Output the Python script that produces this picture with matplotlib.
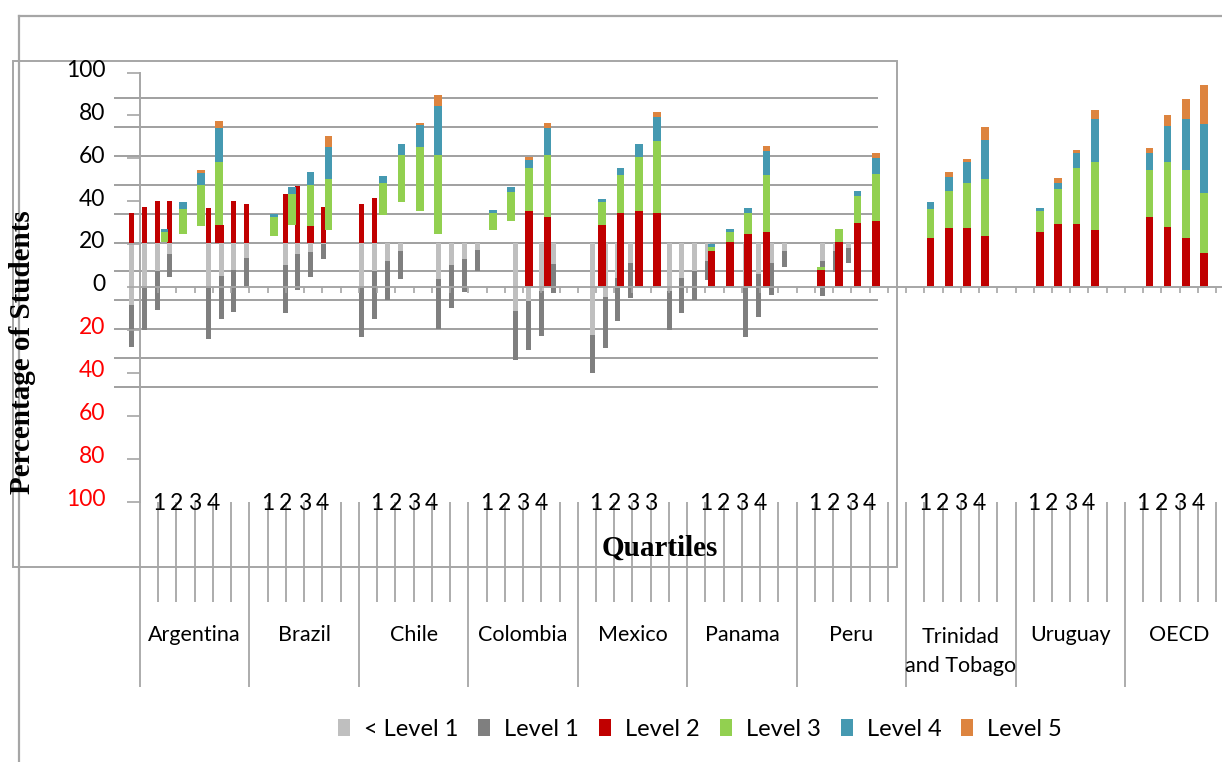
import numpy as np
import matplotlib
matplotlib.use("Agg")
import matplotlib.pyplot as plt
import matplotlib.transforms as mtransforms
from matplotlib.patches import Patch, Rectangle
from matplotlib.lines import Line2D

plt.rcParams["font.family"] = ["Lato", "DejaVu Sans"]

# ── data ──────────────────────────────────────────────────────────
countries = ["Argentina", "Brazil", "Chile", "Colombia", "Mexico",
             "Panama", "Peru", "Trinidad\nand Tobago", "Uruguay", "OECD"]
quartile_labels = [["1", "2", "3", "4"], ["1", "2", "3", "4"],
                   ["1", "2", "3", "4"], ["1", "2", "3", "4"],
                   ["1", "2", "3", "3"], ["1", "2", "3", "4"],
                   ["1", "2", "3", "4"], ["1", "2", "3", "4"],
                   ["1", "2", "3", "4"], ["1", "2", "3", "4"]]
level_names = ["< Level 1", "Level 1", "Level 2", "Level 3", "Level 4", "Level 5"]

# upper panel: Level 2-5 stacked, quartiles 1-4 per country
# (stack_start is where the stack begins on the axis)
stack_start = [21.0, 24.7, 28.4, 20.5,  23.8, 28.9, 20.5, 26.6,
               33.6, 39.6, 35.4, 24.7,  26.6, 30.8, 0, 0,
               0, 0, 0, 0,  0, 0, 0, 0,  0, 0, 0, 0,
               0, 0, 0, 0,  0, 0, 0, 0,  0, 0, 0, 0]
level2 = [0, 0, 0, 8.4,  0, 0, 7.9, 0,  0, 0, 0, 0,  0, 0, 35.4, 32.6,
          28.9, 34.5, 35.4, 34.5,  16.8, 21.0, 24.7, 25.6,
          7.9, 21.0, 29.8, 30.8,  22.8, 27.5, 27.5, 23.8,
          25.6, 29.4, 29.4, 26.6,  32.6, 28.0, 22.8, 15.9]
level3 = [4.7, 11.7, 19.1, 29.4,  8.9, 14.5, 19.1, 23.8,
          14.9, 21.9, 29.8, 36.8,  7.9, 13.5, 20.0, 28.9,
          10.7, 17.7, 25.2, 33.6,  1.9, 4.7, 9.8, 26.6,
          1.4, 6.1, 12.6, 21.9,  13.5, 17.2, 21.0, 26.6,
          9.8, 16.3, 26.1, 31.7,  21.9, 30.3, 31.7, 28.0]
level4 = [1.4, 3.3, 5.6, 15.9,  1.4, 3.3, 6.1, 14.9,
          3.3, 5.1, 10.3, 22.8,  1.4, 2.3, 3.7, 12.6,
          1.4, 3.3, 6.1, 11.2,  1.4, 1.4, 2.3, 11.2,
          0, 0, 2.3, 7.5,  3.3, 6.5, 9.8, 18.2,
          1.4, 2.8, 7.0, 20.0,  7.9, 16.8, 23.8, 32.2]
level5 = [0, 0, 1.4, 3.3,  0, 0, 0, 5.1,  0, 0, 0.9, 5.1,  0, 0, 1.4, 2.3,
          0, 0, 0, 2.3,  0, 0, 0, 2.3,  0, 0, 0, 2.3,  0, 2.3, 1.4, 6.1,
          0, 2.3, 1.4, 4.2,  2.3, 5.1, 9.3, 18.2]

# lower panel: Level 2 up, below-Level-2 shares hanging down from the origin
inner_origin = 20.5
inner_level2 = [14.0, 16.8, 19.6, 19.6,  16.3, 8.4, 19.6, 18.2,
                22.8, 26.8, 7.9, 16.8,  18.2, 21.0, 0, 0] + [0] * 24
below_level1 = [28.9, 21.0, 13.1, 5.1,  20.0, 15.4, 12.6, 7.0,
                10.3, 5.1, 4.2, 0.5,  20.5, 13.1, 8.4, 3.7,
                16.8, 10.3, 7.5, 3.3,  31.7, 27.0, 22.4, 9.8,
                42.9, 25.2, 16.3, 9.3,  22.4, 16.3, 13.1, 8.4,
                21.0, 14.5, 9.3, 3.7,  8.4, 3.7, 2.3, 0]
inner_level1 = [19.6, 19.6, 18.2, 10.7,  24.7, 20.0, 19.6, 13.1,
                22.4, 16.8, 11.7, 7.0,  23.3, 22.4, 18.2, 13.1,
                23.3, 20.0, 15.4, 9.8,  22.8, 22.8, 21.0, 13.5,
                17.7, 23.8, 20.0, 16.3,  18.2, 16.3, 13.5, 8.9,
                22.8, 20.0, 14.9, 7.5,  16.3, 9.8, 7.0, 0]

colours = ["#bfbfbf", "#7f7f7f", "#c00000", "#92d050", "#4599b1", "#dd843f"]
LINE = "#a6a6a6"

# ── layout helpers (pixel boxes) ──────────────────────────────────
W, H = 1222, 762
fig = plt.figure(figsize=(W / 100, H / 100), dpi=100)


def box(x0, y0, x1, y1):
    return [x0 / W, 1 - y1 / H, (x1 - x0) / W, (y1 - y0) / H]


def fig_line(x, y, **kw):
    fig.add_artist(Line2D([v / W for v in x], [1 - v / H for v in y],
                          transform=fig.transFigure, **kw))


n_slots = 60
slot_px = 18.24

# outer frame and inner box
fig_line([19, 1222], [16, 16], color=LINE, lw=1.6)
fig_line([19, 19], [16, 762], color=LINE, lw=1.6)
fig.add_artist(Rectangle((13 / W, 1 - 567 / H), (897 - 13) / W, (567 - 61) / H,
                         transform=fig.transFigure, fill=False,
                         edgecolor=LINE, lw=1.4))

# background gridlines
ax_grid = fig.add_axes(box(114, 96, 878, 389), zorder=0)
ax_grid.set_ylim(-50.7, 50.7)
ax_grid.set_yticks(range(-50, 51, 10))
ax_grid.set_xticks([])
ax_grid.tick_params(axis="y", length=0, labelleft=False)
ax_grid.grid(axis="y", color="#999999", lw=1.3)
ax_grid.patch.set_visible(False)
for s in ax_grid.spines.values():
    s.set_visible(False)

q = np.arange(4)
grp = np.arange(len(countries))[:, None] * 6

# lower panel bars (narrow)
ax_in = fig.add_axes(box(125.1, 72.5, 893.1, 501.5), zorder=1)
in_x = (grp + q[None, :]).ravel() + 0.5
below = np.array(below_level1)
ax_in.bar(in_x, inner_level2, width=0.4, bottom=inner_origin,
          color=colours[2], linewidth=0)
ax_in.bar(in_x, -below, width=0.4, bottom=inner_origin,
          color=colours[0], linewidth=0)
ax_in.bar(in_x, -np.array(inner_level1), width=0.4, bottom=inner_origin - below,
          color=colours[1], linewidth=0)
ax_in.set_xlim(0, n_slots)
ax_in.set_ylim(-100, 100)
ax_in.axis("off")

# upper panel bars and the value axis
ax_out = fig.add_axes(box(140, 72.5, 140 + slot_px * n_slots, 501.5), zorder=2)
out_x = (grp + 1 + q[None, :]).ravel() + 0.5 - 0.16
bottom = np.array(stack_start, dtype=float)
for vals, col in zip([level2, level3, level4, level5], colours[2:]):
    v = np.array(vals, dtype=float)
    ax_out.bar(out_x, v, width=0.42, bottom=bottom, color=col, linewidth=0)
    bottom = bottom + v
ax_out.set_xlim(0, n_slots)
ax_out.set_ylim(-100, 100)
ax_out.patch.set_visible(False)
for side in ["top", "right"]:
    ax_out.spines[side].set_visible(False)
ax_out.spines["left"].set_color(LINE)
ax_out.spines["left"].set_linewidth(1.4)
ax_out.spines["bottom"].set_position(("data", 0))
ax_out.spines["bottom"].set_color(LINE)
ax_out.spines["bottom"].set_linewidth(1.4)
ax_out.set_xticks(range(n_slots + 1))
ax_out.tick_params(axis="x", direction="out", length=4.5, width=1.2,
                   color=LINE, labelbottom=False)
yt = list(range(-100, 101, 20))
ax_out.set_yticks(yt)
ax_out.set_yticklabels([str(abs(v)) for v in yt])
ax_out.tick_params(axis="y", direction="out", length=9.4, width=1.2,
                   color=LINE, pad=15.5, labelsize=16.5)
lift = mtransforms.ScaledTranslation(0, 3 / 72, fig.dpi_scale_trans)
for lab, v in zip(ax_out.get_yticklabels(), yt):
    lab.set_color("#ff0000" if v < 0 else "black")
    lab.set_transform(lab.get_transform() + lift)

# category axis: quartile ticks and country dividers
ax_cat = fig.add_axes(box(140, 502, 140 + slot_px * n_slots, 687), zorder=3)
ax_cat.set_xlim(0, n_slots)
ax_cat.set_ylim(0, 1)
ax_cat.axis("off")
short_low = (687 - 602) / (687 - 502)
for k in range(n_slots + 1):
    ax_cat.vlines(k, 0 if k % 6 == 0 else short_low, 1, color=LINE, lw=1.3,
                  clip_on=False)
for c, name in enumerate(countries):
    for j, lab in enumerate(quartile_labels[c]):
        ax_cat.text(6 * c + 1 + j, 0.992, lab, ha="center", va="center",
                    fontsize=16.5, clip_on=False)
    yc = 0.192 if "\n" in name else 0.281
    ax_cat.text(6 * c + 3, yc, name, ha="center", va="center", fontsize=15.5,
                linespacing=1.55, clip_on=False)

# axis titles
fig.text(660 / W, 1 - 548 / H, "Quartiles", ha="center", va="center",
         family="Liberation Serif", fontweight="bold", fontsize=21)
fig.text(23 / W, 1 - 352 / H, "Percentage of Students", ha="center",
         va="center", rotation=90, family="Liberation Serif",
         fontweight="bold", fontsize=21)

handles = [Patch(facecolor=c, edgecolor="none") for c in colours]
fig.legend(handles, level_names, loc="center", bbox_to_anchor=(700 / W, 1 - 729 / H),
           ncol=6, frameon=False, fontsize=17, handlelength=0.5,
           handleheight=0.75, handletextpad=0.6, columnspacing=0.85)

fig.savefig("out.png", dpi=100)
